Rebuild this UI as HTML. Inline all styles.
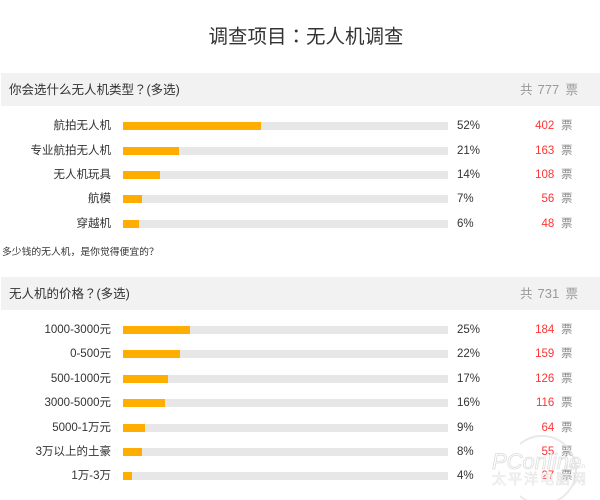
<!DOCTYPE html>
<html><head><meta charset="utf-8">
<style>
*{margin:0;padding:0;box-sizing:border-box}
html,body{width:600px;height:500px;background:#fff;overflow:hidden}
body{position:relative;font-family:"Liberation Sans","Noto Sans CJK SC",sans-serif;color:#333}
.a{position:absolute;white-space:nowrap}
.title{left:0;width:612px;text-align:center;top:24px;font-size:19.5px;line-height:26px;color:#333;font-family:"Liberation Sans","Noto Sans CJK TC",sans-serif}
.hd{left:1px;width:599px;background:#f2f2f2}
.ht{font-size:12.5px;line-height:20px;color:#333;left:9px;font-family:"Liberation Sans","Noto Sans CJK TC",sans-serif}
.hg{font-size:12.5px;line-height:20px;color:#999}
.lb{left:0;width:111px;text-align:right;font-size:11.5px;line-height:20px;color:#333}
.bg{left:123px;width:325px;height:8px;background:#e7e7e7}
.fg{left:123px;height:8px;background:#ffad00}
.pc{left:457px;font-size:11.5px;line-height:20px;color:#333}
.nm{right:45.7px;font-size:11.5px;line-height:20px;color:#ff3333;text-align:right}
.pi{left:561px;font-size:11.5px;line-height:20px;color:#888}
.note{left:2px;font-size:9.8px;line-height:14px;color:#333}
</style></head><body>
<div class="a title">调查项目：无人机调查</div>

<div class="a hd" style="top:73px;height:33px"></div>
<div class="a ht" style="top:80px">你会选什么无人机类型？(多选)</div>
<div class="a hg" style="top:80px;left:520px">共</div>
<div class="a hg" style="top:80px;left:537.5px;font-size:13px">777</div>
<div class="a hg" style="top:80px;left:565.5px">票</div>

<!-- section 1 rows -->
<div class="a lb" style="top:116.3px">航拍无人机</div>
<div class="a bg" style="top:122.3px"></div><div class="a fg" style="top:122.3px;width:138px"></div>
<div class="a pc" style="top:116.3px">52%</div><div class="a nm" style="top:116.3px">402</div><div class="a pi" style="top:116.3px">票</div>

<div class="a lb" style="top:140.7px">专业航拍无人机</div>
<div class="a bg" style="top:146.7px"></div><div class="a fg" style="top:146.7px;width:56px"></div>
<div class="a pc" style="top:140.7px">21%</div><div class="a nm" style="top:140.7px">163</div><div class="a pi" style="top:140.7px">票</div>

<div class="a lb" style="top:165px">无人机玩具</div>
<div class="a bg" style="top:171px"></div><div class="a fg" style="top:171px;width:36.7px"></div>
<div class="a pc" style="top:165px">14%</div><div class="a nm" style="top:165px">108</div><div class="a pi" style="top:165px">票</div>

<div class="a lb" style="top:189.3px">航模</div>
<div class="a bg" style="top:195.3px"></div><div class="a fg" style="top:195.3px;width:18.7px"></div>
<div class="a pc" style="top:189.3px">7%</div><div class="a nm" style="top:189.3px">56</div><div class="a pi" style="top:189.3px">票</div>

<div class="a lb" style="top:214px">穿越机</div>
<div class="a bg" style="top:220px"></div><div class="a fg" style="top:220px;width:16px"></div>
<div class="a pc" style="top:214px">6%</div><div class="a nm" style="top:214px">48</div><div class="a pi" style="top:214px">票</div>

<div class="a note" style="top:246.3px">多少钱的无人机，是你觉得便宜的？</div>

<div class="a hd" style="top:277px;height:32.5px"></div>
<div class="a ht" style="top:284px">无人机的价格？(多选)</div>
<div class="a hg" style="top:284px;left:520px">共</div>
<div class="a hg" style="top:284px;left:537.5px;font-size:13px">731</div>
<div class="a hg" style="top:284px;left:565.5px">票</div>

<!-- section 2 rows -->
<div class="a lb" style="top:320px">1000-3000元</div>
<div class="a bg" style="top:326px"></div><div class="a fg" style="top:326px;width:67px"></div>
<div class="a pc" style="top:320px">25%</div><div class="a nm" style="top:320px">184</div><div class="a pi" style="top:320px">票</div>

<div class="a lb" style="top:344.4px">0-500元</div>
<div class="a bg" style="top:350.4px"></div><div class="a fg" style="top:350.4px;width:57.4px"></div>
<div class="a pc" style="top:344.4px">22%</div><div class="a nm" style="top:344.4px">159</div><div class="a pi" style="top:344.4px">票</div>

<div class="a lb" style="top:368.8px">500-1000元</div>
<div class="a bg" style="top:374.8px"></div><div class="a fg" style="top:374.8px;width:45.4px"></div>
<div class="a pc" style="top:368.8px">17%</div><div class="a nm" style="top:368.8px">126</div><div class="a pi" style="top:368.8px">票</div>

<div class="a lb" style="top:393.2px">3000-5000元</div>
<div class="a bg" style="top:399.2px"></div><div class="a fg" style="top:399.2px;width:41.7px"></div>
<div class="a pc" style="top:393.2px">16%</div><div class="a nm" style="top:393.2px">116</div><div class="a pi" style="top:393.2px">票</div>

<div class="a lb" style="top:417.6px">5000-1万元</div>
<div class="a bg" style="top:423.6px"></div><div class="a fg" style="top:423.6px;width:22.4px"></div>
<div class="a pc" style="top:417.6px">9%</div><div class="a nm" style="top:417.6px">64</div><div class="a pi" style="top:417.6px">票</div>

<div class="a lb" style="top:442px">3万以上的土豪</div>
<div class="a bg" style="top:448px"></div><div class="a fg" style="top:448px;width:19.4px"></div>
<div class="a pc" style="top:442px">8%</div><div class="a nm" style="top:442px">55</div><div class="a pi" style="top:442px">票</div>

<div class="a lb" style="top:466.4px">1万-3万</div>
<div class="a bg" style="top:472.4px"></div><div class="a fg" style="top:472.4px;width:9.4px"></div>
<div class="a pc" style="top:466.4px">4%</div><div class="a nm" style="top:466.4px">27</div><div class="a pi" style="top:466.4px">票</div>

<!-- watermark -->
<svg class="a" style="left:480px;top:430px" width="120" height="70" viewBox="0 0 120 70">
  <path d="M40 14 A34 34 0 1 1 40 66" fill="none" stroke="#e4e4e4" stroke-width="2" opacity="0.8"/>
  <text x="12" y="39" font-family="Liberation Sans, sans-serif" font-size="22" font-style="italic" fill="#fff" stroke="#d8d8d8" stroke-width="0.8" opacity="0.85">PConline</text>
  <text x="84" y="38" font-family="Liberation Sans, sans-serif" font-size="6" fill="#ddd">.com.cn</text>
  <text x="12" y="54" font-family="Liberation Sans, Noto Sans CJK SC, sans-serif" font-size="14" letter-spacing="2" fill="#fff" stroke="#dcdcdc" stroke-width="0.6" opacity="0.8">太平洋电脑网</text>
</svg>
</body></html>
